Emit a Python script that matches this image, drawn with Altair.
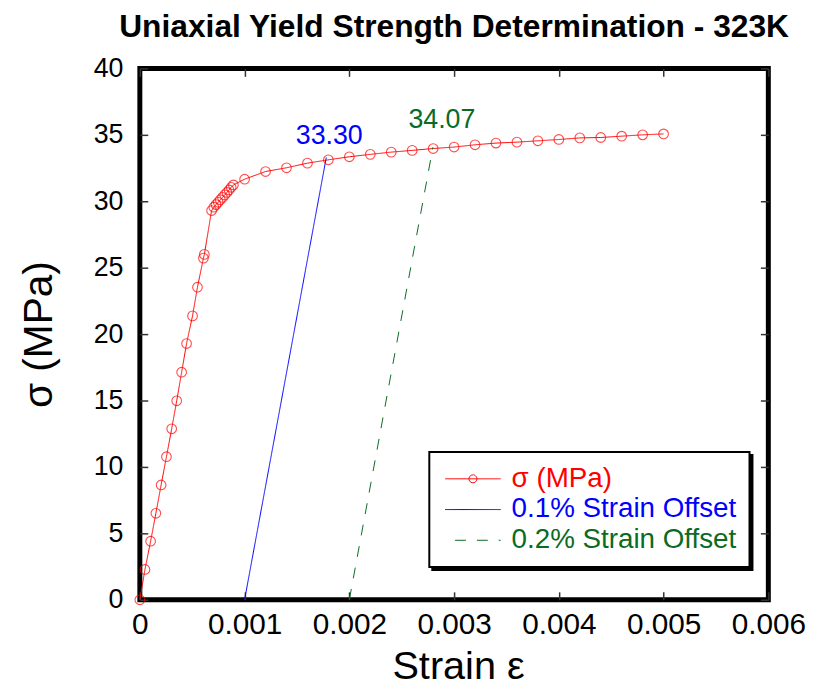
import altair as alt
import pandas as pd

# ---- data ----
sigma_strain = [0.0, 0.000049, 0.000103, 0.000153, 0.000203, 0.000254, 0.000304,
                0.000352, 0.000399, 0.000446, 0.000503, 0.00055, 0.000607, 0.000616,
                0.000685, 0.000706, 0.000727, 0.000748, 0.000768, 0.000789, 0.00081,
                0.000831, 0.000852, 0.000872, 0.000893,
                0.0010, 0.0012, 0.0014, 0.0016, 0.0018, 0.0020, 0.0022, 0.0024,
                0.0026, 0.0028, 0.0030, 0.0032, 0.0034, 0.0036, 0.0038, 0.0040,
                0.0042, 0.0044, 0.0046, 0.0048, 0.0050]
sigma_stress = [0.0, 2.28, 4.41, 6.51, 8.64, 10.77, 12.87,
                14.98, 17.13, 19.29, 21.37, 23.53, 25.72, 26.00,
                29.30, 29.55, 29.75, 29.92, 30.11, 30.29, 30.48,
                30.66, 30.85, 31.05, 31.23,
                31.66, 32.24, 32.52, 32.87, 33.12, 33.35, 33.53, 33.70,
                33.83, 33.97, 34.08, 34.25, 34.38, 34.45, 34.55, 34.65,
                34.77, 34.80, 34.90, 35.00, 35.07]

offset1_strain = [0.001, 0.00178]
offset1_stress = [0.0, 33.30]
offset2_strain = [0.002, 0.002798]
offset2_stress = [0.0, 34.07]

yield_strain = [0.00178, 0.002798]
yield_stress = [33.30, 34.07]

series_names = ["σ (MPa)", "0.1% Strain Offset", "0.2% Strain Offset"]
series_colors = ["#ff0000", "#0000ff", "#0a6b22"]

x_ticks = [0, 0.001, 0.002, 0.003, 0.004, 0.005, 0.006]
y_ticks = [0, 5, 10, 15, 20, 25, 30, 35, 40]

# ---- tables ----
lines_df = pd.concat([
    pd.DataFrame({"strain": sigma_strain, "stress": sigma_stress, "series": series_names[0], "ord": range(len(sigma_strain))}),
    pd.DataFrame({"strain": offset1_strain, "stress": offset1_stress, "series": series_names[1], "ord": range(2)}),
    pd.DataFrame({"strain": offset2_strain, "stress": offset2_stress, "series": series_names[2], "ord": range(2)}),
], ignore_index=True)
sigma_df = pd.DataFrame({"strain": sigma_strain, "stress": sigma_stress})
yield_df = pd.DataFrame({"strain": yield_strain, "stress": yield_stress,
                         "label": [f"{v:.2f}" for v in yield_stress]})
shadow_df = pd.DataFrame({"shadow": series_names})

FONT = "Liberation Sans"
TICK = "#333333"
xscale = alt.Scale(domain=[0, 0.006], nice=False, zero=False)
yscale = alt.Scale(domain=[0, 40], nice=False, zero=False)

# legend glyphs: 56px line (with a small circle for the measured series)
circle_path = "M-14,0L14,0M2,0A2,2,0,1,1,-2,0A2,2,0,1,1,2,0"
line_path = "M-14,0L14,0"
sym_expr = f"datum.value === '{series_names[0]}' ? '{circle_path}' : '{line_path}'"
lab_expr = (f"datum.value === '{series_names[0]}' ? '{series_colors[0]}' : "
            f"datum.value === '{series_names[1]}' ? '{series_colors[1]}' : '{series_colors[2]}'")

LX, LY = 292, 387
legend_common = dict(title=None, orient="none", padding=13, rowPadding=3,
                     symbolOffset=17, labelFontSize=28, labelFont=FONT, labelLimit=400)

legend = alt.Legend(
    legendX=LX, legendY=LY, zindex=2, labelOffset=25,
    labelColor=alt.ExprRef(lab_expr),
    symbolType=alt.ExprRef(sym_expr),
    symbolSize=16, symbolStrokeWidth=1, symbolDashOffset=12,
    strokeColor="black", fillColor="white",
    **legend_common,
)
# same-sized black box, offset by 3px, drawn underneath: the legend's drop shadow
shadow_legend = alt.Legend(
    legendX=LX + 3, legendY=LY + 3, zindex=1, labelOffset=25 + 227,
    labelExpr="''", symbolOpacity=0, symbolSize=16,
    strokeColor="black", fillColor="black",
    **legend_common,
)

main_x_axis = alt.Axis(values=x_ticks, format=".3~f", title="Strain ε", titleFontSize=40,
                       titleFontWeight="normal", titleFont=FONT, titleBaseline="alphabetic",
                       titleX=321, titleY=87, titleColor="black",
                       labelFontSize=30, labelFont=FONT, labelPadding=10, labelColor="black",
                       offset=-8, tickSize=8, tickColor=TICK, tickWidth=1.5, domain=False, grid=False,
                       labelFlush=False, labelOverlap=False)
main_y_axis = alt.Axis(values=y_ticks, title="σ (MPa)", titleFontSize=41, titleFontWeight="normal",
                       titleFont=FONT, titleBaseline="middle", titleX=-109, titleColor="black",
                       labelFontSize=27, labelFont=FONT, labelPadding=17, labelColor="black",
                       offset=-8, tickSize=8, tickColor=TICK, tickWidth=1.5, domain=False, grid=False,
                       labelFlush=False, labelOverlap=False)
top_axis = alt.Axis(orient="top", values=x_ticks, labels=False, title=None, offset=-8, tickSize=8,
                    tickColor=TICK, tickWidth=1.5, domain=False, grid=False)
right_axis = alt.Axis(orient="right", values=y_ticks, labels=False, title=None, offset=-8, tickSize=8,
                      tickColor=TICK, tickWidth=1.5, domain=False, grid=False)

lines = alt.Chart(lines_df).mark_line(strokeWidth=1).encode(
    x=alt.X("strain:Q", scale=xscale, axis=main_x_axis),
    y=alt.Y("stress:Q", scale=yscale, axis=main_y_axis),
    color=alt.Color("series:N", scale=alt.Scale(domain=series_names, range=series_colors),
                    sort=series_names, legend=legend),
    strokeDash=alt.StrokeDash("series:N", scale=alt.Scale(domain=series_names, range=[[1, 0], [1, 0], [11, 11]]),
                              sort=series_names, legend=legend),
    order="ord:Q",
)

points = alt.Chart(sigma_df).mark_point(shape="circle", size=95, filled=False, color=series_colors[0],
                                        strokeWidth=1.1).encode(
    x=alt.X("strain:Q", scale=xscale, axis=top_axis),
    y=alt.Y("stress:Q", scale=yscale, axis=right_axis),
)

txt_base = alt.Chart(yield_df).encode(
    x=alt.X("strain:Q", scale=xscale, axis=None),
    y=alt.Y("stress:Q", scale=yscale, axis=None),
    text="label:N",
)
txt1 = txt_base.transform_filter(alt.datum.strain < 0.002).mark_text(
    font=FONT, fontSize=27, color=series_colors[1], baseline="alphabetic", dy=-14, dx=3)
txt2 = txt_base.transform_filter(alt.datum.strain > 0.002).mark_text(
    font=FONT, fontSize=27, color=series_colors[2], baseline="alphabetic", dy=-19, dx=9)

# invisible layer whose only purpose is the legend's drop shadow
shadow = alt.Chart(shadow_df).mark_point(opacity=0).encode(
    shape=alt.Shape("shadow:N", legend=shadow_legend),
)

chart = (
    alt.layer(lines, points, txt1, txt2, shadow)
    .resolve_axis(x="independent", y="independent")
    .properties(
        width=634, height=536,
        padding={"left": 133, "top": 58, "right": 38, "bottom": 80},
        autosize=alt.AutoSizeParams(type="none"),
        title=alt.TitleParams("Uniaxial Yield Strength Determination - 323K", font=FONT, fontSize=32,
                              fontWeight="bold", anchor="middle", offset=11, color="black"),
    )
    .configure(font=FONT)
    .configure_view(stroke="black", strokeWidth=5)
    .configure_legend(strokeWidth=2)
)

chart.save("out.html", embed_options={"renderer": "svg", "actions": False})
